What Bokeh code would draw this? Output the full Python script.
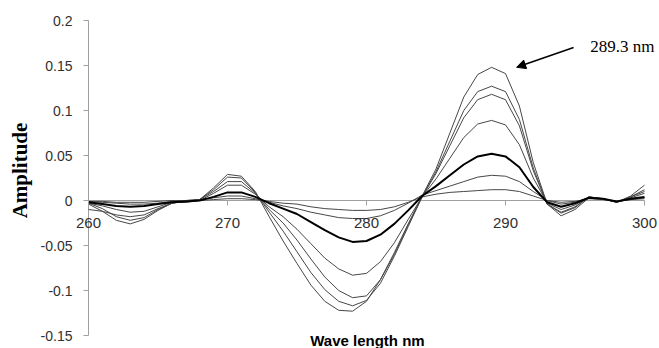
import math
from bokeh.plotting import figure
from bokeh.models import ColumnDataSource, Label, Arrow, NormalHead, FixedTicker
from bokeh.embed import file_html
from bokeh.resources import INLINE

wavelength = list(range(260, 301))

c1 = [-0.004, -0.012, -0.022, -0.026, -0.021, -0.011, -0.003, 0.000, 0.001, 0.014,
      0.029, 0.027, 0.010, -0.018, -0.045, -0.070, -0.094, -0.112, -0.122, -0.123,
      -0.112, -0.088, -0.058, -0.026, 0.005, 0.035, 0.075, 0.115, 0.140, 0.148,
      0.141, 0.105, 0.042, -0.004, -0.017, -0.010, 0.003, 0.002, -0.002, 0.005, 0.017]
c2 = [-0.003, -0.009, -0.018, -0.022, -0.019, -0.010, -0.003, -0.001, 0.001, 0.012,
      0.026, 0.025, 0.009, -0.013, -0.034, -0.057, -0.080, -0.099, -0.112, -0.117,
      -0.111, -0.092, -0.062, -0.029, 0.004, 0.032, 0.066, 0.100, 0.121, 0.127,
      0.121, 0.090, 0.036, -0.004, -0.014, -0.008, 0.004, 0.002, -0.002, 0.004, 0.012]
c3 = [-0.010, -0.012, -0.016, -0.018, -0.016, -0.009, -0.003, -0.001, 0.001, 0.010,
      0.021, 0.021, 0.008, -0.010, -0.025, -0.044, -0.065, -0.085, -0.100, -0.108,
      -0.106, -0.088, -0.060, -0.027, 0.004, 0.030, 0.061, 0.092, 0.112, 0.118,
      0.112, 0.083, 0.033, -0.004, -0.013, -0.007, 0.004, 0.002, -0.002, 0.004, 0.010]
c4 = [-0.003, -0.006, -0.010, -0.013, -0.012, -0.007, -0.002, -0.002, 0.000, 0.008,
      0.017, 0.017, 0.007, -0.007, -0.018, -0.032, -0.048, -0.064, -0.076, -0.083,
      -0.081, -0.068, -0.047, -0.021, 0.004, 0.024, 0.047, 0.070, 0.085, 0.089,
      0.084, 0.062, 0.025, -0.003, -0.010, -0.005, 0.004, 0.002, -0.002, 0.003, 0.008]
c5 = [-0.002, -0.004, -0.006, -0.007, -0.006, -0.004, -0.002, -0.001, 0.000, 0.004,
      0.009, 0.009, 0.004, -0.003, -0.009, -0.015, -0.024, -0.033, -0.041, -0.046,
      -0.045, -0.038, -0.026, -0.011, 0.005, 0.016, 0.028, 0.040, 0.049, 0.052,
      0.049, 0.037, 0.015, -0.002, -0.007, -0.003, 0.003, 0.002, -0.001, 0.002, 0.004]
c6 = [-0.001, -0.002, -0.003, -0.004, -0.004, -0.003, -0.001, 0.000, 0.001, 0.003,
      0.005, 0.005, 0.002, -0.002, -0.006, -0.009, -0.013, -0.016, -0.019, -0.020,
      -0.020, -0.017, -0.011, -0.003, 0.006, 0.011, 0.016, 0.021, 0.026, 0.028,
      0.027, 0.021, 0.010, 0.000, -0.004, -0.002, 0.003, 0.002, -0.001, 0.001, 0.003]
c7 = [-0.001, -0.001, -0.002, -0.002, -0.002, -0.001, 0.000, 0.000, 0.000, 0.001,
      0.002, 0.002, 0.001, -0.001, -0.003, -0.004, -0.007, -0.009, -0.010, -0.011,
      -0.011, -0.010, -0.007, -0.002, 0.004, 0.007, 0.009, 0.010, 0.011, 0.012,
      0.012, 0.010, 0.005, 0.000, -0.002, -0.001, 0.002, 0.001, -0.001, 0.001, 0.002]

thin_series = [c1, c2, c3, c4, c6, c7]
bold_series = c5

x_ticks = [260, 270, 280, 290, 300]
y_ticks = [-0.15, -0.1, -0.05, 0, 0.05, 0.1, 0.15, 0.2]
y_tick_labels = {-0.15: "-0.15", -0.1: "-0.1", -0.05: "-0.05", 0: "0",
                 0.05: "0.05", 0.1: "0.1", 0.15: "0.15", 0.2: "0.2"}

x_title = "Wave length  nm"
y_title = "Amplitude"
annot_text = "289.3 nm"
annot_pos = (296.1, 0.171)
arrow_start = (294.9, 0.170)
arrow_end = (290.8, 0.148)

# layout in pixels (whole canvas is the frame)
W, H = 659, 348
left_px, right_px, top_px, bottom_px = 88, 644, 20, 335
xmin, xmax = x_ticks[0], x_ticks[-1]
ymin, ymax = y_ticks[0], y_ticks[-1]
sx = (right_px - left_px) / (xmax - xmin)
sy = (bottom_px - top_px) / (ymax - ymin)
x_start = xmin - left_px / sx
x_end = xmax + (W - right_px) / sx
y_end = ymax + top_px / sy
y_start = ymin - (H - bottom_px) / sy

p = figure(width=W, height=H, x_range=(x_start, x_end), y_range=(y_start, y_end),
           output_backend="svg", toolbar_location=None,
           min_border_left=0, min_border_right=0, min_border_top=0, min_border_bottom=0)
p.outline_line_color = None
p.grid.visible = False
p.background_fill_color = "white"
p.border_fill_color = "white"

axis_gray = "#a0a0a0"
# axis lines limited to the data extent
p.segment(x0=[xmin], y0=[0], x1=[xmax], y1=[0], line_color=axis_gray, line_width=1)
p.segment(x0=[xmin], y0=[ymin], x1=[xmin], y1=[ymax], line_color=axis_gray, line_width=1)

src = ColumnDataSource(dict(x=wavelength))
for i, s in enumerate(thin_series):
    src.data[f"s{i}"] = s
    p.line("x", f"s{i}", source=src, line_color="#474747", line_width=1.0,
           line_join="round")
src.data["bold"] = bold_series
p.line("x", "bold", source=src, line_color="#000000", line_width=2.0, line_join="round")

xa = p.xaxis[0]
xa.fixed_location = 0
xa.ticker = FixedTicker(ticks=x_ticks)
xa.axis_line_color = None
xa.major_tick_line_color = axis_gray
xa.major_tick_out = 5
xa.major_tick_in = 0
xa.minor_tick_line_color = None
xa.major_label_text_font = "Liberation Sans"
xa.major_label_text_font_size = "15px"
xa.major_label_text_color = "#303030"
xa.major_label_standoff = 12

ya = p.yaxis[0]
ya.fixed_location = xmin
ya.ticker = FixedTicker(ticks=y_ticks)
ya.major_label_overrides = y_tick_labels
ya.axis_line_color = None
ya.major_tick_line_color = axis_gray
ya.major_tick_out = 5
ya.major_tick_in = 0
ya.minor_tick_line_color = None
ya.major_label_text_font = "Liberation Sans"
ya.major_label_text_font_size = "14px"
ya.major_label_text_color = "#303030"
ya.major_label_standoff = 11

# axis titles
p.add_layout(Label(x=xmin - 69 / sx, y=ymax - 150 / sy, text=y_title, angle=math.pi / 2,
                   text_font="Liberation Serif", text_font_style="bold", text_font_size="21px",
                   text_align="center", text_baseline="middle", text_color="#000000"))
p.add_layout(Label(x=(xmin + xmax) / 2 + 3 / sx, y=ymin - 5 / sy, text=x_title,
                   text_font="Liberation Sans", text_font_style="bold", text_font_size="15px",
                   text_align="center", text_baseline="middle", text_color="#000000"))

p.add_layout(Label(x=annot_pos[0], y=annot_pos[1], text=annot_text, text_font="Liberation Serif",
                   text_font_size="17px", text_baseline="middle", text_color="#000000"))
p.add_layout(Arrow(end=NormalHead(size=9, fill_color="black", line_color="black"),
                   x_start=arrow_start[0], y_start=arrow_start[1],
                   x_end=arrow_end[0], y_end=arrow_end[1], line_width=1.5, line_color="black"))

open("out.html", "w").write(file_html(p, INLINE))
